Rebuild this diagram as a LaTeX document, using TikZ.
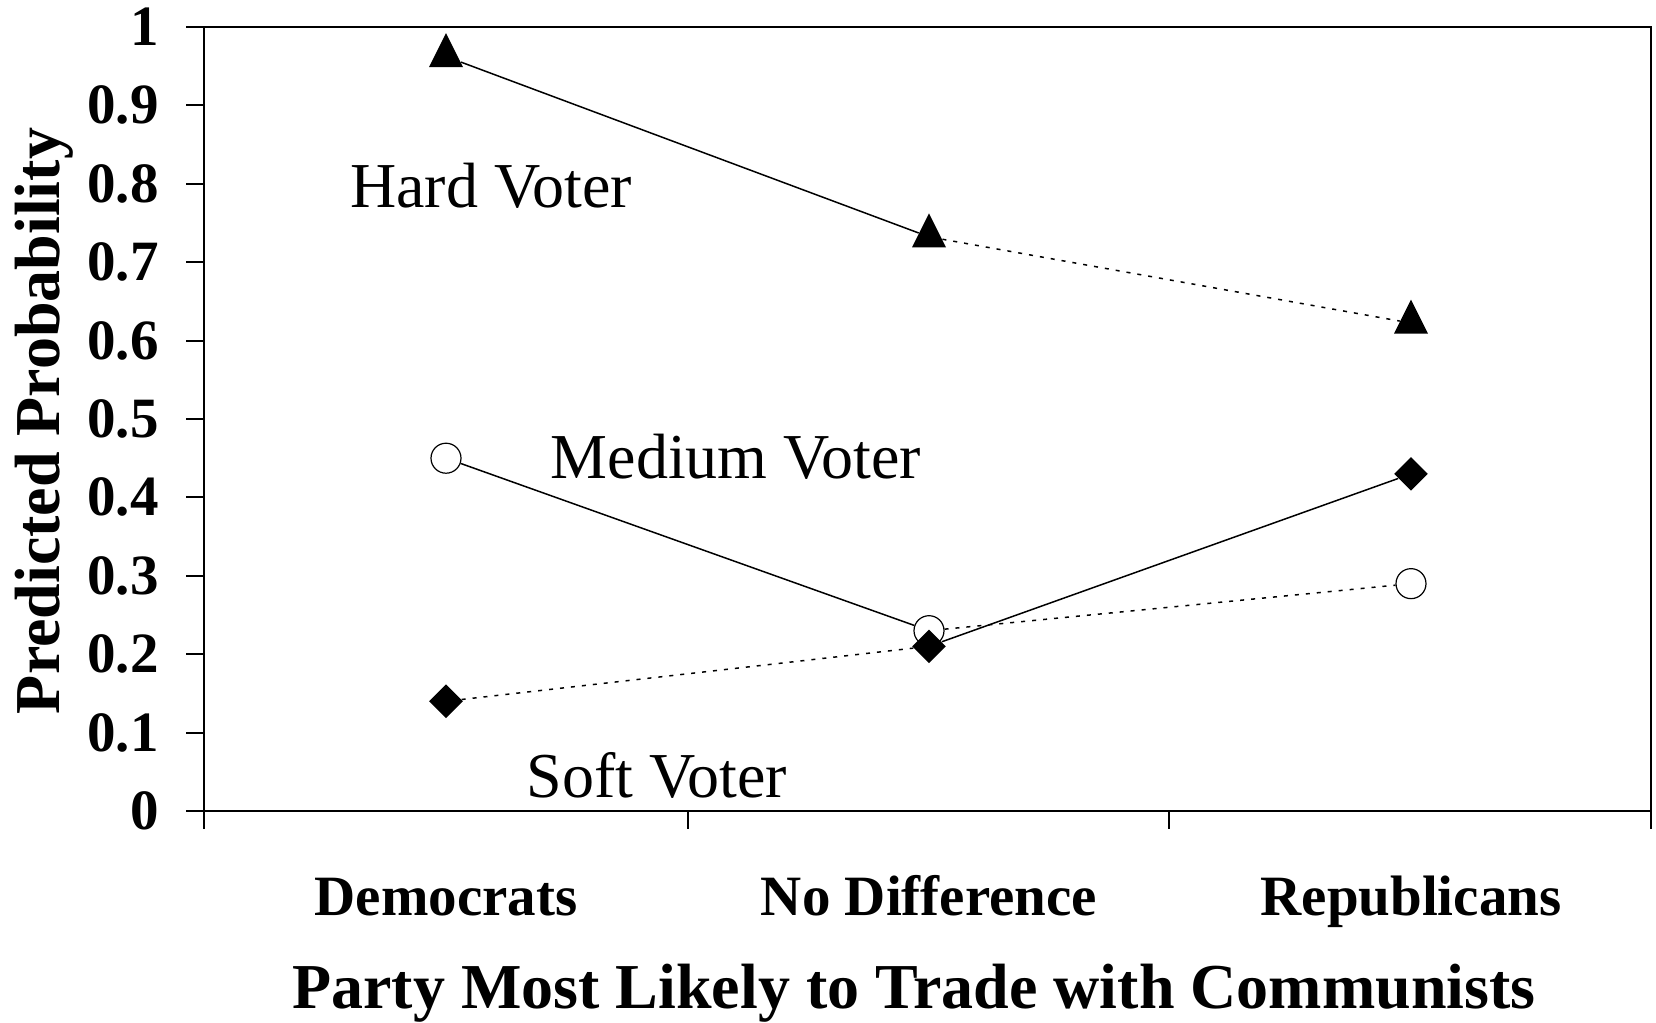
\documentclass[tikz,border=0pt]{standalone}
\usepackage{fontspec}
\setmainfont{Liberation Serif}
\usetikzlibrary{shapes.geometric}
\begin{document}
\begin{tikzpicture}[x=0.5pt,y=-0.5pt,
  axisline/.style={line width=1pt},
  solidconn/.style={line width=0.75pt},
  dotconn/.style={line width=0.75pt,dash pattern=on 2pt off 3.5pt},
  tri/.style={isosceles triangle,isosceles triangle stretches,shape border rotate=90,fill=black,inner sep=0pt,minimum width=17pt,minimum height=17pt,yshift=-3pt},
  dia/.style={diamond,fill=black,inner sep=0pt,minimum width=17pt,minimum height=17pt},
  circ/.style={circle,draw=black,fill=white,line width=0.6pt,inner sep=0pt,minimum size=15pt},
  ticklab/.style={anchor=east,inner sep=0pt,font=\fontsize{28.5pt}{30pt}\selectfont\bfseries},
  catlab/.style={anchor=base,inner sep=0pt,font=\fontsize{28.5pt}{30pt}\selectfont\bfseries},
  titlelab/.style={anchor=base,inner sep=0pt,font=\fontsize{32pt}{34pt}\selectfont\bfseries},
  serieslab/.style={anchor=base,inner sep=0pt,font=\fontsize{32pt}{34pt}\selectfont}
]
\useasboundingbox (0,0) rectangle (1656,1023);
% axes box
\draw[axisline] (186,27) -- (1651,27) -- (1651,829);
\draw[axisline] (204,27) -- (204,829);
\draw[axisline] (186,811) -- (1651,811);
\foreach \v in {1,...,9} \draw[axisline] (186,{811-78.4*\v}) -- (204,{811-78.4*\v});
\foreach \x in {688,1169} \draw[axisline] (\x,811) -- (\x,829);
% tick labels
\foreach \v/\t in {0/0,1/0.1,2/0.2,3/0.3,4/0.4,5/0.5,6/0.6,7/0.7,8/0.8,9/0.9,10/1}
  \node[ticklab] (yt\v) at (159,{811-78.4*\v}) {\t};
% category labels
\node[catlab] (catD) at (446,915) {Democrats};
\node[catlab] (catN) at (929,915) {No Difference};
\node[catlab] (catR) at (1411,915) {Republicans};
\node[titlelab] (xtitle) at (914,1008) {Party Most Likely to Trade with Communists};
\node[titlelab,rotate=90] (ytitle) at (60,421) {Predicted Probability};
% series labels
\node[serieslab] (lhard) at (491,207) {Hard Voter};
\node[serieslab] (lmed) at (736,478) {Medium Voter};
\node[serieslab] (lsoft) at (657,797) {Soft Voter};
% markers
\node[tri] (h1) at (446,{811-784*0.97}) {};
\node[tri] (h2) at (929,{811-784*0.74}) {};
\node[tri] (h3) at (1411,{811-784*0.63}) {};
\node[circ] (m1) at (446,{811-784*0.45}) {};
\node[circ] (m2) at (929,{811-784*0.23}) {};
\node[circ] (m3) at (1411,{811-784*0.29}) {};
\node[dia] (s1) at (446,{811-784*0.14}) {};
\node[dia] (s2) at (929,{811-784*0.21}) {};
\node[dia] (s3) at (1411,{811-784*0.43}) {};
% connectors
\draw[solidconn] (h1) -- (h2);
\draw[dotconn] (h2) -- (h3);
\draw[solidconn] (m1) -- (m2);
\draw[dotconn] (m2) -- (m3);
\draw[dotconn] (s1) -- (s2);
\draw[solidconn] (s2) -- (s3);
\end{tikzpicture}
\end{document}
